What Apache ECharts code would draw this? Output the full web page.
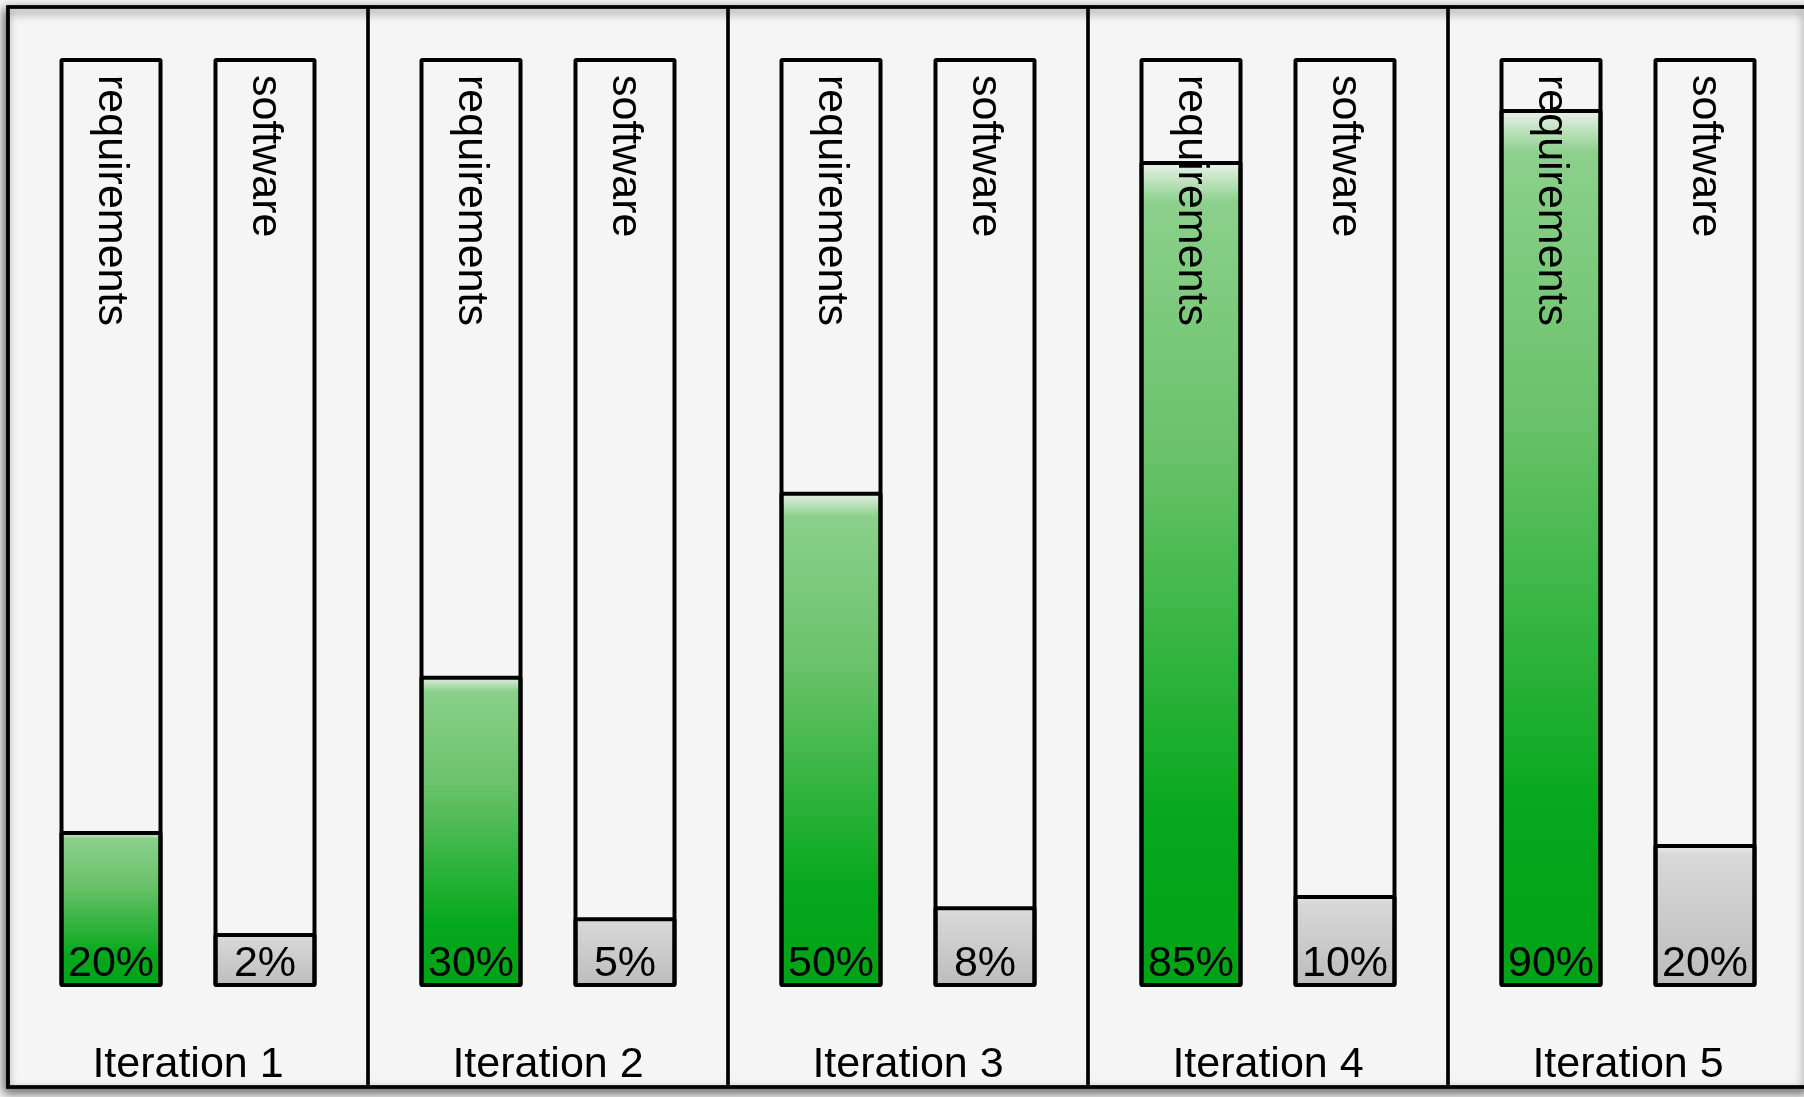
<!DOCTYPE html>
<html>
<head>
<meta charset="utf-8">
<style>
html,body{margin:0;padding:0;background:#f1f1f1;}
#c{width:1804px;height:1097px;}
</style>
<script src="https://cdn.jsdelivr.net/npm/echarts@6/dist/echarts.min.js"></script>
</head>
<body>
<div id="c"></div>
<script>
// ---- data ----
const iterations = ['Iteration 1', 'Iteration 2', 'Iteration 3', 'Iteration 4', 'Iteration 5'];
const barCategories = ['requirements', 'software'];
// visual fill level of each bar (percent of bar height)
const reqFill = [16.8, 33.5, 53.3, 88.9, 94.5];
const swFill = [5.8, 7.5, 8.7, 9.9, 15.4];
// printed labels
const reqLabels = ['20%', '30%', '50%', '85%', '90%'];
const swLabels = ['2%', '5%', '8%', '10%', '20%'];
const FULL = 100;

// ---- layout / style ----
const FRAME_LEFT = 8, FRAME_TOP = 7, PANEL_W = 360, PANEL_H = 1080;
const BAR_TOP = 58, BAR_H = 929, BAR_INSET = 26;
const FONT = "'Liberation Sans', Arial, Helvetica, sans-serif";

const green = {
  type: 'linear', x: 0, y: 0, x2: 0, y2: 1,
  colorStops: [
    { offset: 0, color: '#eef3ee' },
    { offset: 0.05, color: '#8bd08b' },
    { offset: 0.35, color: '#6ac26a' },
    { offset: 0.8, color: '#05a81c' },
    { offset: 1, color: '#00a316' }
  ]
};
const gray = {
  type: 'linear', x: 0, y: 0, x2: 0, y2: 1,
  colorStops: [
    { offset: 0, color: '#ededed' },
    { offset: 0.08, color: '#d8d8d8' },
    { offset: 1, color: '#bcbcbc' }
  ]
};

const grid = [], xAxis = [], yAxis = [], series = [];

// outer frame (with shadow)
grid.push({
  outerBoundsMode: 'none',
  left: FRAME_LEFT, top: FRAME_TOP, width: PANEL_W * 5, height: PANEL_H,
  show: true, backgroundColor: '#f5f5f5', borderColor: '#000', borderWidth: 3.5,
  shadowColor: 'rgba(0,0,0,0.55)', shadowBlur: 10, shadowOffsetX: -2, shadowOffsetY: 4
});
xAxis.push({ gridIndex: 0, type: 'category', data: [''], show: false });
yAxis.push({ gridIndex: 0, type: 'value', show: false });

// panels
iterations.forEach((name, i) => {
  grid.push({
    outerBoundsMode: 'none',
    left: FRAME_LEFT + PANEL_W * i, top: FRAME_TOP, width: PANEL_W, height: PANEL_H,
    show: true, backgroundColor: 'transparent', borderColor: '#000', borderWidth: 3.2
  });
  xAxis.push({
    gridIndex: i + 1, type: 'category', data: [name], position: 'bottom',
    axisLine: { show: false }, axisTick: { show: false }, splitLine: { show: false },
    axisLabel: { inside: true, margin: 0, interval: 0, fontSize: 43, color: '#000', fontFamily: FONT }
  });
  yAxis.push({ gridIndex: i + 1, type: 'value', show: false });
});

// bar grids
iterations.forEach((name, i) => {
  const gi = i + 6;
  grid.push({
    outerBoundsMode: 'none',
    left: FRAME_LEFT + PANEL_W * i + BAR_INSET, top: BAR_TOP,
    width: PANEL_W - 2 * BAR_INSET, height: BAR_H
  });
  xAxis.push({ gridIndex: gi, type: 'category', data: barCategories, show: false });
  yAxis.push({ gridIndex: gi, type: 'value', min: 0, max: FULL, show: false });
  const labels = [reqLabels[i], swLabels[i]];
  series.push({
    type: 'bar', xAxisIndex: gi, yAxisIndex: gi, silent: true,
    barWidth: 103,
    data: [
      { value: reqFill[i], itemStyle: { color: green } },
      { value: swFill[i], itemStyle: { color: gray } }
    ],
    itemStyle: { borderColor: '#000', borderWidth: 4, borderRadius: 1 },
    label: {
      show: true, position: 'insideBottom', distance: 1,
      formatter: p => labels[p.dataIndex],
      fontSize: 43, color: '#000', fontFamily: FONT
    }
  });
  series.push({
    type: 'bar', xAxisIndex: gi, yAxisIndex: gi, silent: true,
    barWidth: 103, barGap: '-100%',
    data: [FULL, FULL],
    itemStyle: { color: 'rgba(0,0,0,0)', borderColor: '#000', borderWidth: 4, borderRadius: 1 },
    label: {
      show: true, position: ['50%', 17], rotate: -90, align: 'left', verticalAlign: 'middle',
      formatter: '{b}', fontSize: 43, color: '#000', fontFamily: FONT
    }
  });
});

const chart = echarts.init(document.getElementById('c'), null, { renderer: 'canvas' });
chart.setOption({ animation: false, backgroundColor: '#f1f1f1', grid, xAxis, yAxis, series });
</script>
</body>
</html>
